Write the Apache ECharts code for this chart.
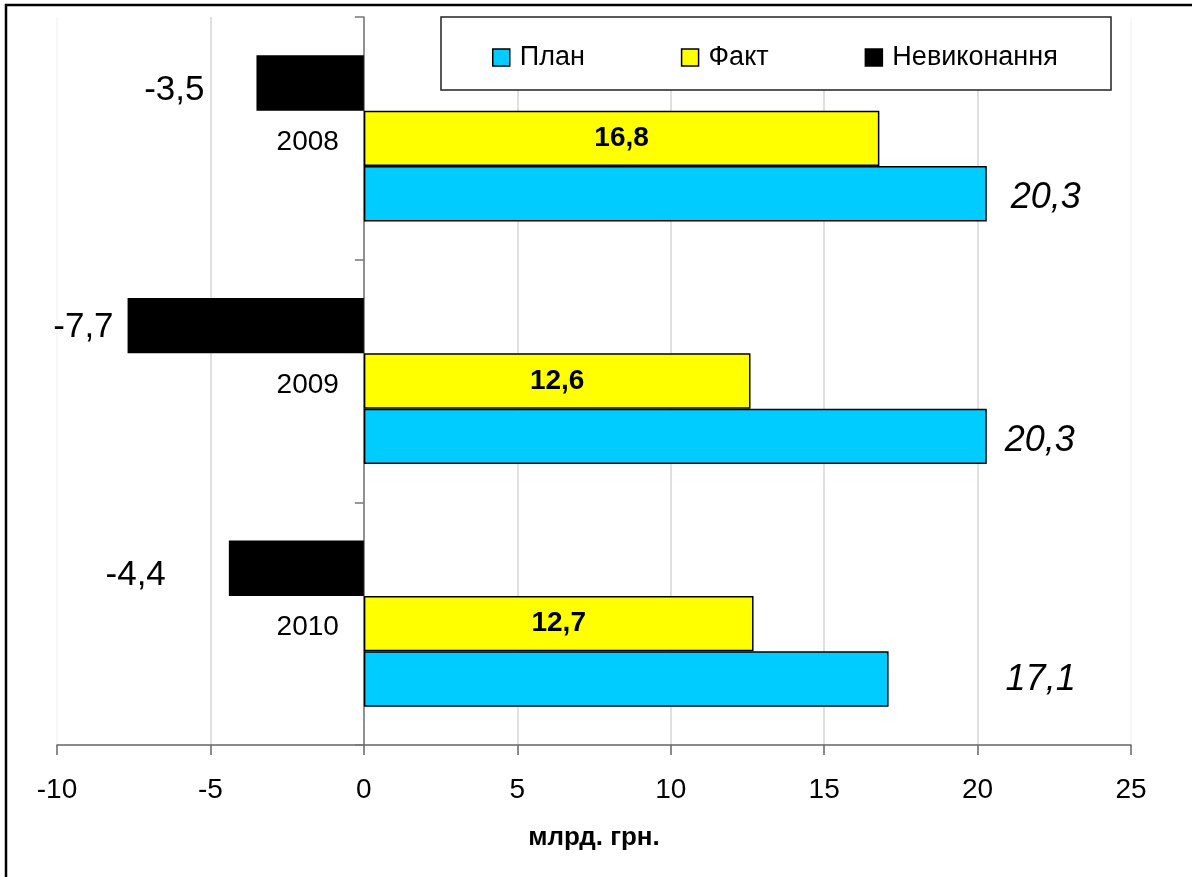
<!DOCTYPE html>
<html>
<head>
<meta charset="utf-8">
<script src="https://cdn.jsdelivr.net/npm/echarts@6/dist/echarts.min.js"></script>
<style>
html,body{margin:0;padding:0;background:#fff;}
#chart{width:1192px;height:877px;}
</style>
</head>
<body>
<div id="chart"></div>
<script>
// ---- data ----
const categories = ['2008', '2009', '2010'];
const planValues = [20.3, 20.3, 17.1];      // План
const factValues = [16.8, 12.6, 12.7];      // Факт
const shortfallValues = [-3.5, -7.7, -4.4]; // Невиконання
const seriesNames = ['План', 'Факт', 'Невиконання'];
const xTicks = { min: -10, max: 25, interval: 5 };

// ---- layout / label styling ----
const W = 1192, H = 877;
const GRID = { left: 57, right: 61, top: 17, bottom: 132 };
const planLabelDistance = [24, 18, 117];
const planLabelOffsetY = [4, 5, 1];
const shortLabelDistance = [52, 14, 63];
const shortLabelOffsetY = [7, 2, 7];

const FONT = '"Liberation Sans", Arial, sans-serif';
const fmt = p => String(p.value).replace('.', ',');

// place category axis at value 0 (as in the original, labels sit beside the zero line)
const gridWidth = W - GRID.left - GRID.right;
const yAxisOffset = -((0 - xTicks.min) / (xTicks.max - xTicks.min)) * gridWidth;

const chart = echarts.init(document.getElementById('chart'), null, { renderer: 'canvas' });

const planData = planValues.map((v, i) => ({
  value: v,
  label: { distance: planLabelDistance[i], offset: [0, planLabelOffsetY[i]] }
}));
const shortData = shortfallValues.map((v, i) => ({
  value: v,
  label: { distance: shortLabelDistance[i], offset: [0, shortLabelOffsetY[i]] }
}));

const option = {
  backgroundColor: '#ffffff',
  animation: false,
  textStyle: { fontFamily: FONT },
  graphic: [
    {
      type: 'rect',
      shape: { x: 6, y: 5, width: 1300, height: 1000 },
      style: { fill: 'none', stroke: '#000', lineWidth: 2.5 },
      z: 100
    },
    {
      type: 'rect',
      shape: { x: 441, y: 17, width: 670, height: 73 },
      style: { fill: '#fff', stroke: '#222', lineWidth: 1.5 },
      z: 10
    }
  ],
  legend: {
    data: seriesNames,
    left: 492,
    top: 44,
    padding: 0,
    itemGap: 96,
    itemWidth: 17,
    itemHeight: 17,
    icon: 'rect',
    z: 20,
    itemStyle: { borderColor: '#000', borderWidth: 1.5 },
    textStyle: { fontSize: 27, color: '#000', fontFamily: FONT, padding: [0, 0, 0, 5] }
  },
  grid: {
    left: GRID.left, right: GRID.right, top: GRID.top, bottom: GRID.bottom,
    containLabel: false, outerBoundsMode: 'none'
  },
  xAxis: {
    type: 'value',
    min: xTicks.min,
    max: xTicks.max,
    interval: xTicks.interval,
    name: 'млрд. грн.',
    nameLocation: 'middle',
    nameGap: 80,
    nameTextStyle: { fontSize: 26, fontWeight: 'bold', color: '#000', fontFamily: FONT },
    axisLine: { show: true, onZero: false, lineStyle: { color: '#666', width: 1.5 } },
    axisTick: { show: true, length: 10, lineStyle: { color: '#666', width: 1.5 } },
    axisLabel: { fontSize: 28, color: '#000', margin: 31, fontFamily: FONT },
    splitLine: {
      show: true,
      lineStyle: { color: ['#f4f4f4', '#d6d6d6', '#d6d6d6', '#d6d6d6', '#d6d6d6', '#d6d6d6', '#d6d6d6', '#f4f4f4'], width: 1.5 }
    }
  },
  yAxis: {
    type: 'category',
    data: categories,
    inverse: true,
    position: 'left',
    offset: yAxisOffset,
    axisLine: { show: true, onZero: false, lineStyle: { color: '#777', width: 1.5 } },
    axisTick: { show: true, length: 9, lineStyle: { color: '#777', width: 1.5 } },
    axisLabel: {
      fontSize: 28, color: '#000', margin: 25, fontFamily: FONT,
      formatter: v => '{c|' + v + '}',
      rich: { c: { fontSize: 28, color: '#000', fontFamily: FONT, padding: [8, 0, 0, 0] } }
    },
    splitLine: { show: false }
  },
  series: [
    {
      name: seriesNames[2],
      type: 'bar',
      data: shortData,
      barGap: '0%',
      barCategoryGap: '31.5%',
      itemStyle: { color: '#000000' },
      label: {
        show: true, position: 'left', formatter: fmt,
        fontSize: 35, color: '#000', fontFamily: FONT
      }
    },
    {
      name: seriesNames[1],
      type: 'bar',
      data: factValues,
      barGap: '0%',
      barCategoryGap: '31.5%',
      itemStyle: { color: '#FFFF00', borderColor: '#000', borderWidth: 1.5 },
      label: {
        show: true, position: 'inside', formatter: fmt,
        fontSize: 28, fontWeight: 'bold', color: '#000', fontFamily: FONT
      }
    },
    {
      name: seriesNames[0],
      type: 'bar',
      data: planData,
      barGap: '0%',
      barCategoryGap: '31.5%',
      itemStyle: { color: '#00CCFF', borderColor: '#000', borderWidth: 1.5 },
      label: {
        show: true, position: 'right', formatter: fmt,
        fontSize: 36, fontStyle: 'italic', color: '#000', fontFamily: FONT
      }
    }
  ]
};

chart.setOption(option);
</script>
</body>
</html>
